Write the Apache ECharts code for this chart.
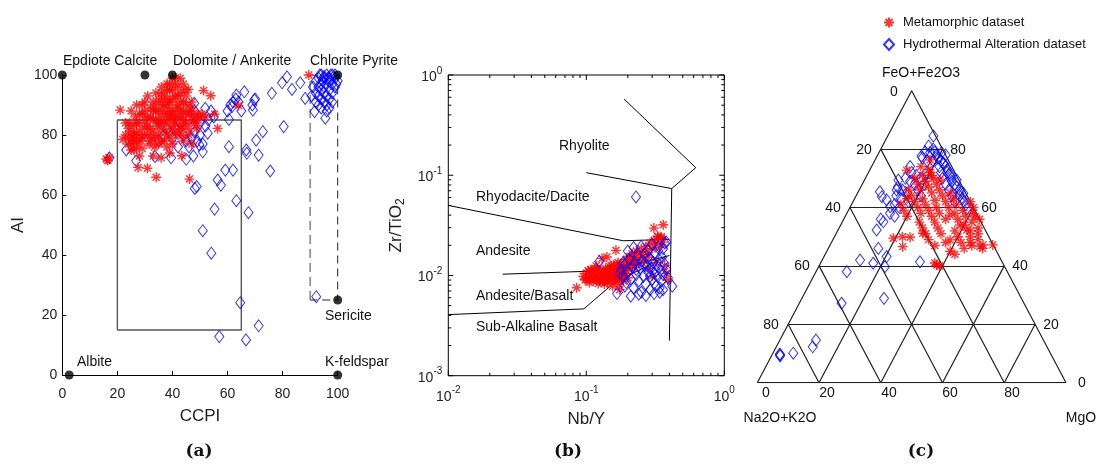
<!DOCTYPE html>
<html><head><meta charset="utf-8">
<script src="https://cdn.jsdelivr.net/npm/echarts@6/dist/echarts.min.js"></script>
<style>html,body{margin:0;padding:0;background:#fff}#c{width:1099px;height:466px}</style>
</head><body><div id="c"></div>
<script>
// ---------------- DATA ----------------
// Panel (a): CCPI vs AI
const META_A = [[16,72],[16.5,71.5],[17,72.5],[21,88.3],[22,78.5],[23,80],[24,82.2],[24.5,84],[25,77],[25.5,79],[26,83],[26.5,86],[27,76],[27.5,69.2],[27,81],[28,84],[28.5,78],[29,87],[29,75.5],[30,80],[30.5,83],[30.9,68.9],[31,86],[31.5,77],[32,89],[32,82],[32.5,79],[33,85],[33,91],[33.5,76],[34,88],[34.1,65.9],[34.5,83],[35,80],[35,92],[35.5,86],[35.9,72.4],[36,78],[36.5,89],[37,84],[37,93],[37.5,81],[38,87],[38,76],[38.5,90],[39,83],[39,95],[39.5,79],[40,88],[40,92],[40.5,85],[41,81],[41,97],[41.5,90],[42,86],[42,93],[42.5,83],[42.8,98.9],[43,88],[43.4,73.1],[43.5,80],[44,91],[44,85],[44.5,95],[45,87],[45.8,95.2],[46,82],[46.2,65.3],[46.5,89],[47,85],[48,84],[48.8,82.2],[49,87],[50.7,87],[51.3,94.8],[52,86],[53.9,93.1],[55.3,87],[56.4,82.2],[64,89.8],[89.5,100],[29,90],[31,93],[34,94],[36,96],[38,97],[40,99],[42,96],[37,78],[39,74],[33,73],[28,73],[26,75],[25,88],[27,90],[30,91],[40,77],[44,78],[46,80],[47,77],[35,84],[36,82],[38,85],[39,86],[41,84],[43,82],[32,86],[31,80],[29,82],[28,80],[34,79],[23,84],[24,79],[25,81],[26,78],[27,84],[28,87],[29,79],[30,85],[30,88],[31,83],[32,78],[33,81],[33,88],[34,85],[34,90],[35,77],[35,88],[36,84],[36,91],[37,87],[37,90],[38,80],[38,92],[39,88],[39,91],[40,82],[40,86],[40,95],[41,87],[41,93],[42,80],[42,89],[43,86],[43,91],[43,94],[44,83],[44,88],[45,84],[45,90],[45,93],[46,87],[47,88],[47,91],[48,86],[49,84],[50,86],[36,94],[38,95],[41,99],[39,97],[44,97],[25,75],[24,77],[26,80],[27,78]];
const HYDRO_A = [[17.1,72.4],[23.2,75],[26.8,71.4],[33.7,72.8],[39.5,72.4],[45,71.9],[47.9,90.6],[47.6,73],[48.1,62.2],[48.8,62.8],[51,48.1],[51,74.4],[49.8,76.7],[51.9,88.9],[52.8,80.6],[54.1,40.6],[55.3,55.3],[56.4,65],[57.6,63.3],[57,12.8],[59.2,68.3],[60.5,85.2],[60.5,76.1],[62,68.3],[61.6,89.4],[63.2,93.3],[63.2,58.1],[64.6,24.1],[66.1,94.4],[66.7,11.7],[66.8,75],[67,73.9],[67.6,54.1],[69.2,88.3],[69.7,91.7],[70.4,78.3],[71.3,73.3],[71.3,16.4],[72.8,81.1],[75.5,68],[76.1,93.9],[80.4,82.8],[81.6,99.4],[79.8,97.4],[83.4,95.2],[86.4,97.4],[88.2,92.2],[91.6,87.8],[92.2,26.1],[95.5,85.6],[35,78],[37,80],[40,79],[41,82],[43,84],[44,80],[45,78],[46,76],[47,79],[48,81],[49,78],[50,80],[51,77],[52,83],[53,85],[54,88],[55,86],[46,85],[48,88],[50,84],[42,76],[38,82],[60,88],[61,90],[62,91],[63,92],[64,91],[65,88],[69,90],[70,92],[92,98],[93,99],[94,100],[95,99],[96,100],[97,99],[98,100],[99,99],[93,96],[94,97],[95,96],[96,97],[97,98],[98,97],[99,96],[92,94],[93,93],[94,95],[95,94],[96,93],[97,95],[98,94],[95,91],[96,90],[97,92],[94,92],[93,90],[96,88],[97,89],[98,91],[91,96],[90.5,93],[92,91],[94,89],[95,99.5],[96.5,99],[97.5,100],[94.5,98],[93.5,100],[99,100],[100,98],[99.5,97]];
const REF_NAMES = ['Epdiote','Calcite','Dolomite / Ankerite','Pyrite','Sericite','Albite','K-feldspar'];
const REF_CCPI = [0, 30, 40, 100, 100, 2.5, 100];
const REF_AI   = [100, 100, 100, 100, 25, 0, 0];
const ALT_BOX_CCPI = [20, 65];
const ALT_BOX_AI = [15, 85];
const CHL_BOX_CCPI = [90, 100];
const CHL_BOX_AI = [25, 100];

// Panel (b): Nb/Y vs Zr/TiO2
const META_B = [[0.105,0.0095],[0.11,0.0102],[0.112,0.0088],[0.115,0.0098],[0.118,0.0108],[0.12,0.0092],[0.122,0.0083],[0.125,0.01],[0.127,0.0112],[0.13,0.0095],[0.132,0.0088],[0.135,0.0105],[0.138,0.0118],[0.14,0.0098],[0.142,0.0085],[0.145,0.0092],[0.148,0.011],[0.15,0.0102],[0.152,0.0125],[0.155,0.0078],[0.158,0.0095],[0.16,0.0115],[0.162,0.0088],[0.165,0.0105],[0.168,0.0128],[0.17,0.0098],[0.172,0.0082],[0.175,0.0112],[0.178,0.0122],[0.18,0.0093],[0.185,0.0135],[0.19,0.0118],[0.195,0.0145],[0.2,0.0128],[0.205,0.0155],[0.21,0.0138],[0.215,0.0165],[0.22,0.0148],[0.225,0.012],[0.23,0.0175],[0.235,0.0158],[0.24,0.0132],[0.25,0.0185],[0.255,0.0162],[0.26,0.0142],[0.27,0.0195],[0.275,0.017],[0.28,0.0152],[0.29,0.021],[0.3,0.0185],[0.31,0.0225],[0.32,0.0205],[0.33,0.0245],[0.34,0.019],[0.35,0.0235],[0.36,0.0215],[0.37,0.0125],[0.38,0.0105],[0.39,0.009],[0.28,0.0118],[0.3,0.0098],[0.32,0.0135],[0.0851,0.00753],[0.164,0.0178],[0.141,0.0153],[0.361,0.0321],[0.309,0.0297],[0.33,0.0244],[0.35,0.0244],[0.13,0.0148],[0.118,0.0125],[0.095,0.0098],[0.1,0.0105],[0.108,0.0115],[0.098,0.009],[0.19,0.0105],[0.2,0.0095],[0.175,0.0072],[0.105,0.0085],[0.11,0.0112],[0.115,0.0092],[0.12,0.0118],[0.125,0.0088],[0.13,0.0108],[0.135,0.0092],[0.14,0.0112],[0.145,0.0102],[0.15,0.0088],[0.155,0.0108],[0.16,0.0098],[0.165,0.0092],[0.17,0.0115],[0.175,0.0098],[0.18,0.0108],[0.185,0.0088],[0.19,0.0098],[0.195,0.0112],[0.2,0.0118],[0.21,0.0128],[0.22,0.0135],[0.23,0.0142],[0.1,0.0092],[0.103,0.0112],[0.135,0.0082],[0.148,0.0122],[0.158,0.0128],[0.17,0.0135]];
const HYDRO_B = [[0.229,0.0607],[0.124,0.0138],[0.167,0.0066],[0.37,0.0211],[0.42,0.0078],[0.18,0.0115],[0.185,0.0098],[0.19,0.0128],[0.195,0.0085],[0.2,0.0108],[0.205,0.0145],[0.21,0.0092],[0.215,0.0122],[0.22,0.0075],[0.225,0.0135],[0.23,0.0102],[0.235,0.0155],[0.24,0.0088],[0.245,0.0118],[0.25,0.0068],[0.255,0.014],[0.26,0.0098],[0.265,0.0165],[0.27,0.0082],[0.275,0.0125],[0.28,0.0108],[0.285,0.0148],[0.29,0.0072],[0.295,0.0118],[0.3,0.0092],[0.305,0.0135],[0.31,0.0105],[0.315,0.0168],[0.32,0.0078],[0.325,0.0125],[0.33,0.0098],[0.335,0.0145],[0.34,0.0068],[0.345,0.0112],[0.35,0.0088],[0.355,0.0152],[0.36,0.0102],[0.37,0.013],[0.38,0.0115],[0.39,0.0095],[0.2,0.0175],[0.22,0.019],[0.25,0.0195],[0.28,0.0178],[0.3,0.0205],[0.33,0.019],[0.36,0.0185],[0.38,0.0215],[0.21,0.0062],[0.24,0.0065],[0.27,0.0063],[0.31,0.0066],[0.34,0.0075],[0.36,0.0072],[0.175,0.0105],[0.185,0.0135],[0.19,0.0078],[0.23,0.0115],[0.26,0.0128],[0.29,0.0098],[0.32,0.0112]];
// classification boundaries (Nb/Y, Zr/TiO2)
const B_RHYOLITE_TOP = [[0.188,0.575],[0.621,0.119],[0.416,0.0736],[0.40,0.00224]];
const B_RHYOLITE_DACITE = [[0.1,0.106],[0.416,0.0736]];
const B_DACITE_ANDESITE = [[0.01,0.05],[0.185,0.0222],[0.40,0.0229]];
const B_ANDESITE_AB = [[0.0248,0.0103],[0.1485,0.0112],[0.40,0.0158]];
const B_AB_SAB = [[0.01,0.00407],[0.096,0.00464],[0.16,0.0085],[0.38,0.0155]];
const LOG_TICKS_X = [0.01,0.02,0.03,0.04,0.05,0.06,0.07,0.08,0.09,0.1,0.2,0.3,0.4,0.5,0.6,0.7,0.8,0.9,1];
const LOG_TICKS_Y = [0.001,0.002,0.003,0.004,0.005,0.006,0.007,0.008,0.009,0.01,0.02,0.03,0.04,0.05,0.06,0.07,0.08,0.09,0.1,0.2,0.3,0.4,0.5,0.6,0.7,0.8,0.9,1];

// Panel (c): ternary, pairs of [FeO+Fe2O3, MgO] (%); Na2O+K2O = 100 - both
const HYDRO_C_FM = [[84.5,14.8],[79.1,14.8],[78.8,16.6],[77.6,14.4],[78.8,20.3],[75.1,22.7],[71.7,26.6],[69.4,29.9],[64.9,34.3],[59.7,38],[69.4,11],[66,12.1],[74,12.5],[65.4,7],[63.7,8.5],[62.6,10.6],[60.3,12.9],[52.3,12.5],[55.1,13.3],[46,16.2],[43.2,20.3],[42,12.3],[40.9,17.1],[39.7,21.5],[38,10],[41.4,32],[27.2,13.7],[28.9,26.6],[14.6,11.7],[12.3,11.8],[10.1,6.6],[9.5,2.6],[9.2,2.8],[9.8,2.4],[78,19],[77,20],[76,21.5],[75,23],[74,24],[73,25],[72,25.5],[71,27],[70,28],[69,28.5],[68,30],[67,31],[66,32.5],[65,33],[64,33.5],[63,35],[62,36],[61,37],[76,19],[74,22],[72,23.5],[70,25],[68,27],[66,29],[64,31],[62,33],[72,14],[71,16],[70,13],[69,15],[68,17],[67,12],[66,14],[65,16],[64,13],[63,15],[62,18],[61,14],[60,16],[68,20],[66,19],[64,21],[70,18],[72,19],[58,14],[57,16],[56,12],[80,17],[81,15],[79,18],[78,22],[76,17],[77,15]];
const META_C_FM = [[76.3,17.8],[72.8,12],[49.5,19.3],[46.6,23.8],[49.8,24.6],[51.2,28],[40.3,38],[46.6,48.8],[47.2,52.7],[56.8,42.1],[52.3,41.7],[48.9,38],[62.5,26.3],[57.4,33.7],[66,19.7],[54,38.7],[69.4,24.5],[72,20],[70,22],[68,24],[66,26],[64,28],[62,30],[60,32],[58,35],[56,37],[54,40],[52,43],[50,44],[48,45],[71,18],[69,20],[67,22],[65,24],[63,22],[61,24],[59,26],[57,28],[55,30],[53,32],[51,34],[65,30],[63,32],[61,34],[59,37],[57,39],[55,42],[53,45],[51,46],[49,47],[47,46],[46,44],[48,42],[50,40],[52,38],[60,28],[58,30],[56,33],[62,20],[60,22],[58,24],[64,18],[66,16],[68,18],[70,16],[74,16],[73,19],[71,21],[55,25],[53,27],[51,29],[49,31],[47,34],[45,40],[44,42],[48,37],[62,38],[60,40],[58,41],[56,44],[47.2,49.5],[46,50],[41,37],[40,39],[50,22],[57,20],[59,18],[61,16],[63,17]];
const TERN_TICKS = [20, 40, 60, 80];

// ---------------- HELPERS ----------------
const FONT = '"Liberation Sans", Arial, sans-serif';
const STAR = 'path://M10,0L10,20M0,10L20,10M3,3L17,17M3,17L17,3';
const RED = '#ff0000', BLUE = '#0000ff';
const META = 'Metamorphic dataset', HYDRO = 'Hydrothermal Alteration dataset';
function tern(a, f, m) { const s = a + f + m; return [(0.5 * f + m) / s, f / s]; }
function fm(p) { return tern(100 - p[0] - p[1], p[0], p[1]); }
const starStyle = { color: 'rgba(0,0,0,0)', borderColor: RED, borderWidth: 1.4 };
const diaStyle = { color: 'rgba(0,0,0,0)', borderColor: BLUE, borderWidth: 1 };
const STAR_SIZE = 10, DIA_SIZE = [9, 12];

const ternSegs = [];
TERN_TICKS.forEach(t => {
  ternSegs.push([tern(100 - t, t, 0), tern(0, t, 100 - t)]);
  ternSegs.push([tern(100 - t, 0, t), tern(0, 100 - t, t)]);
  ternSegs.push([tern(t, 0, 100 - t), tern(t, 100 - t, 0)]);
});
const triangle = [tern(100,0,0), tern(0,100,0), tern(0,0,100), tern(100,0,0)];

function logLabel(v) { const e = Math.round(Math.log10(v)); return '{b|10}{s|' + e + '}'; }
const logRich = { b: { fontSize: 14, fontFamily: FONT, color: '#222', verticalAlign: 'bottom' },
                  s: { fontSize: 10, fontFamily: FONT, color: '#222', verticalAlign: 'top', padding: [0, 0, 8, 0] } };

function tickSeries(axis, vals) {
  return {
    type: 'custom', xAxisIndex: 1, yAxisIndex: 1, silent: true, z: 6,
    data: vals.map(v => axis === 'x' ? [v, 0.01] : [0.1, v]),
    renderItem: function (params, api) {
      const v = api.value(axis === 'x' ? 0 : 1);
      const major = Math.abs(Math.log10(v) - Math.round(Math.log10(v))) < 1e-6;
      const L = major ? 5 : 3;
      const st = { stroke: '#000', lineWidth: 1 };
      if (axis === 'x') {
        const b = api.coord([v, 0.001]), t = api.coord([v, 1]);
        return { type: 'group', children: [
          { type: 'line', shape: { x1: b[0], y1: b[1], x2: b[0], y2: b[1] - L }, style: st },
          { type: 'line', shape: { x1: t[0], y1: t[1], x2: t[0], y2: t[1] + L }, style: st }] };
      } else {
        const l = api.coord([0.01, v]), r = api.coord([1, v]);
        return { type: 'group', children: [
          { type: 'line', shape: { x1: l[0], y1: l[1], x2: l[0] + L, y2: l[1] }, style: st },
          { type: 'line', shape: { x1: r[0], y1: r[1], x2: r[0] - L, y2: r[1] }, style: st }] };
      }
    }
  };
}

function txt(text, x, y, opts) {
  return { type: 'text', silent: true, z: 100, style: Object.assign({ text: text, x: x, y: y, fill: '#111',
    font: '14px ' + FONT, align: 'center', verticalAlign: 'middle' }, opts || {}) };
}
function bline(data) {
  return { type: 'line', xAxisIndex: 1, yAxisIndex: 1, data: data, symbol: 'none', silent: true,
    lineStyle: { color: '#000', width: 1 }, z: 3 };
}

// ---------------- CHART ----------------
const chart = echarts.init(document.getElementById('c'), null, { renderer: 'canvas' });
const axisLbl = { color: '#222', fontSize: 14, fontFamily: FONT };
const option = {
  animation: false,
  backgroundColor: '#fff',
  textStyle: { fontFamily: FONT },
  grid: [
    { left: 62.3, top: 75, width: 275.4, height: 300, show: false },
    { left: 448.3, top: 75, width: 276, height: 300.7, show: true, borderColor: '#000', borderWidth: 1, backgroundColor: 'transparent' },
    { left: 757.3, top: 90.7, width: 308.7, height: 292, show: false }
  ],
  legend: {
    orient: 'vertical', left: 878, top: 11, itemWidth: 10, itemHeight: 11, itemGap: 9,
    data: [META, HYDRO], selectedMode: false,
    textStyle: { fontSize: 13, fontFamily: FONT, color: '#111', padding: [0, 0, 0, 4] }
  },
  xAxis: [
    { gridIndex: 0, type: 'value', min: 0, max: 100, interval: 20,
      axisLine: { lineStyle: { color: '#000', width: 1 } }, axisTick: { inside: true, length: 4, lineStyle: { color: '#000' } },
      axisLabel: Object.assign({ margin: 12 }, axisLbl), splitLine: { show: false },
      name: 'CCPI', nameLocation: 'middle', nameGap: 33, nameTextStyle: { fontSize: 17, color: '#222', fontFamily: FONT } },
    { gridIndex: 1, type: 'log', logBase: 10, min: 0.01, max: 1,
      axisLine: { show: false }, axisTick: { show: false }, splitLine: { show: false }, minorTick: { show: false },
      axisLabel: { margin: 10, formatter: logLabel, rich: logRich },
      name: 'Nb/Y', nameLocation: 'middle', nameGap: 35, nameTextStyle: { fontSize: 17, color: '#222', fontFamily: FONT } },
    { gridIndex: 2, type: 'value', min: 0, max: 1, show: false }
  ],
  yAxis: [
    { gridIndex: 0, type: 'value', min: 0, max: 100, interval: 20,
      axisLine: { show: true, lineStyle: { color: '#000', width: 1 } }, axisTick: { show: true, inside: true, length: 4, lineStyle: { color: '#000' } },
      axisLabel: Object.assign({ margin: 5 }, axisLbl), splitLine: { show: false },
      name: 'AI', nameLocation: 'middle', nameGap: 35, nameTextStyle: { fontSize: 17, color: '#222', fontFamily: FONT } },
    { gridIndex: 1, type: 'log', logBase: 10, min: 0.001, max: 1,
      axisLine: { show: false }, axisTick: { show: false }, splitLine: { show: false }, minorTick: { show: false },
      axisLabel: { margin: 6, formatter: logLabel, rich: logRich },
      name: '{n|Zr/TiO}{u|2}', nameLocation: 'middle', nameGap: 42,
      nameTextStyle: { rich: { n: { fontSize: 17, color: '#222', fontFamily: FONT, verticalAlign: 'top' },
                               u: { fontSize: 12, color: '#222', fontFamily: FONT, verticalAlign: 'bottom', padding: [6, 0, 0, 0] } } } },
    { gridIndex: 2, type: 'value', min: 0, max: 1, show: false }
  ],
  series: [
    // ---- panel a ----
    { type: 'line', xAxisIndex: 0, yAxisIndex: 0, symbol: 'none', silent: true, z: 1,
      data: [[ALT_BOX_CCPI[0], ALT_BOX_AI[0]], [ALT_BOX_CCPI[1], ALT_BOX_AI[0]], [ALT_BOX_CCPI[1], ALT_BOX_AI[1]], [ALT_BOX_CCPI[0], ALT_BOX_AI[1]], [ALT_BOX_CCPI[0], ALT_BOX_AI[0]]],
      lineStyle: { color: '#555', width: 1.4 } },
    { type: 'line', xAxisIndex: 0, yAxisIndex: 0, symbol: 'none', silent: true, z: 1,
      data: [[CHL_BOX_CCPI[0], CHL_BOX_AI[0]], [CHL_BOX_CCPI[0], CHL_BOX_AI[1]]],
      lineStyle: { color: '#8a8a8a', width: 1.6, type: [9, 5] } },
    { type: 'line', xAxisIndex: 0, yAxisIndex: 0, symbol: 'none', silent: true, z: 1,
      data: [[CHL_BOX_CCPI[0], CHL_BOX_AI[1]], [CHL_BOX_CCPI[1], CHL_BOX_AI[1]], [CHL_BOX_CCPI[1], CHL_BOX_AI[0]], [CHL_BOX_CCPI[0], CHL_BOX_AI[0]]],
      lineStyle: { color: '#222', width: 1, type: [8, 5] } },
    { name: HYDRO, type: 'scatter', xAxisIndex: 0, yAxisIndex: 0, data: HYDRO_A, symbol: 'diamond', symbolSize: DIA_SIZE, itemStyle: diaStyle, z: 2 },
    { name: META, type: 'scatter', xAxisIndex: 0, yAxisIndex: 0, data: META_A, symbol: STAR, symbolSize: STAR_SIZE, itemStyle: starStyle, z: 3 },
    { type: 'scatter', xAxisIndex: 0, yAxisIndex: 0, silent: true, z: 5, symbol: 'circle', symbolSize: 9,
      itemStyle: { color: '#000' }, data: REF_CCPI.map((x, i) => ({ name: REF_NAMES[i], value: [x, REF_AI[i]] })) },
    // ---- panel b ----
    bline(B_RHYOLITE_TOP), bline(B_RHYOLITE_DACITE), bline(B_DACITE_ANDESITE), bline(B_ANDESITE_AB), bline(B_AB_SAB),
    { name: META, type: 'scatter', xAxisIndex: 1, yAxisIndex: 1, data: META_B, symbol: STAR, symbolSize: STAR_SIZE, itemStyle: starStyle, z: 4 },
    { name: HYDRO, type: 'scatter', xAxisIndex: 1, yAxisIndex: 1, data: HYDRO_B, symbol: 'diamond', symbolSize: DIA_SIZE, itemStyle: diaStyle, z: 5 },
    tickSeries('x', LOG_TICKS_X), tickSeries('y', LOG_TICKS_Y),
    // ---- panel c ----
    { type: 'lines', coordinateSystem: 'cartesian2d', xAxisIndex: 2, yAxisIndex: 2, silent: true, z: 1,
      data: ternSegs.map(s => ({ coords: s })), lineStyle: { color: '#222', width: 1.2, opacity: 1 } },
    { type: 'line', xAxisIndex: 2, yAxisIndex: 2, symbol: 'none', silent: true, z: 1,
      data: triangle, lineStyle: { color: '#222', width: 1.2 } },
    { name: HYDRO, type: 'scatter', xAxisIndex: 2, yAxisIndex: 2, data: HYDRO_C_FM.map(fm), symbol: 'diamond', symbolSize: DIA_SIZE, itemStyle: diaStyle, z: 3 },
    { name: META, type: 'scatter', xAxisIndex: 2, yAxisIndex: 2, data: META_C_FM.map(fm), symbol: STAR, symbolSize: STAR_SIZE, itemStyle: starStyle, z: 4 }
  ],
  graphic: [
    txt('Epdiote Calcite', 63, 61, { align: 'left' }),
    txt('Dolomite / Ankerite', 173, 61, { align: 'left' }),
    txt('Chlorite Pyrite', 310, 61, { align: 'left' }),
    txt('Sericite', 325, 316, { align: 'left' }),
    txt('Albite', 77, 362, { align: 'left' }),
    txt('K-feldspar', 325, 362, { align: 'left' }),
    txt('(a)', 199, 452, { font: 'bold 17px "DejaVu Serif", serif' }),
    txt('Rhyolite', 559, 146, { align: 'left' }),
    txt('Rhyodacite/Dacite', 476, 197, { align: 'left' }),
    txt('Andesite', 476, 251, { align: 'left' }),
    txt('Andesite/Basalt', 476, 296, { align: 'left' }),
    txt('Sub-Alkaline Basalt', 476, 327, { align: 'left' }),
    txt('(b)', 568, 452, { font: 'bold 17px "DejaVu Serif", serif' }),
    txt('FeO+Fe2O3', 921, 73),
    txt('0', 894, 92), txt('20', 864, 150), txt('40', 833, 208), txt('60', 802, 266), txt('80', 771, 325),
    txt('80', 958, 150), txt('60', 989, 208), txt('40', 1020, 266), txt('20', 1051, 325), txt('0', 1082, 383),
    txt('0', 766, 393), txt('20', 827, 393), txt('40', 889, 393), txt('60', 950, 393), txt('80', 1012, 393),
    txt('Na2O+K2O', 780, 418), txt('MgO', 1081, 418),
    txt('(c)', 921, 452, { font: 'bold 17px "DejaVu Serif", serif' })
  ]
};
chart.setOption(option);
</script></body></html>
